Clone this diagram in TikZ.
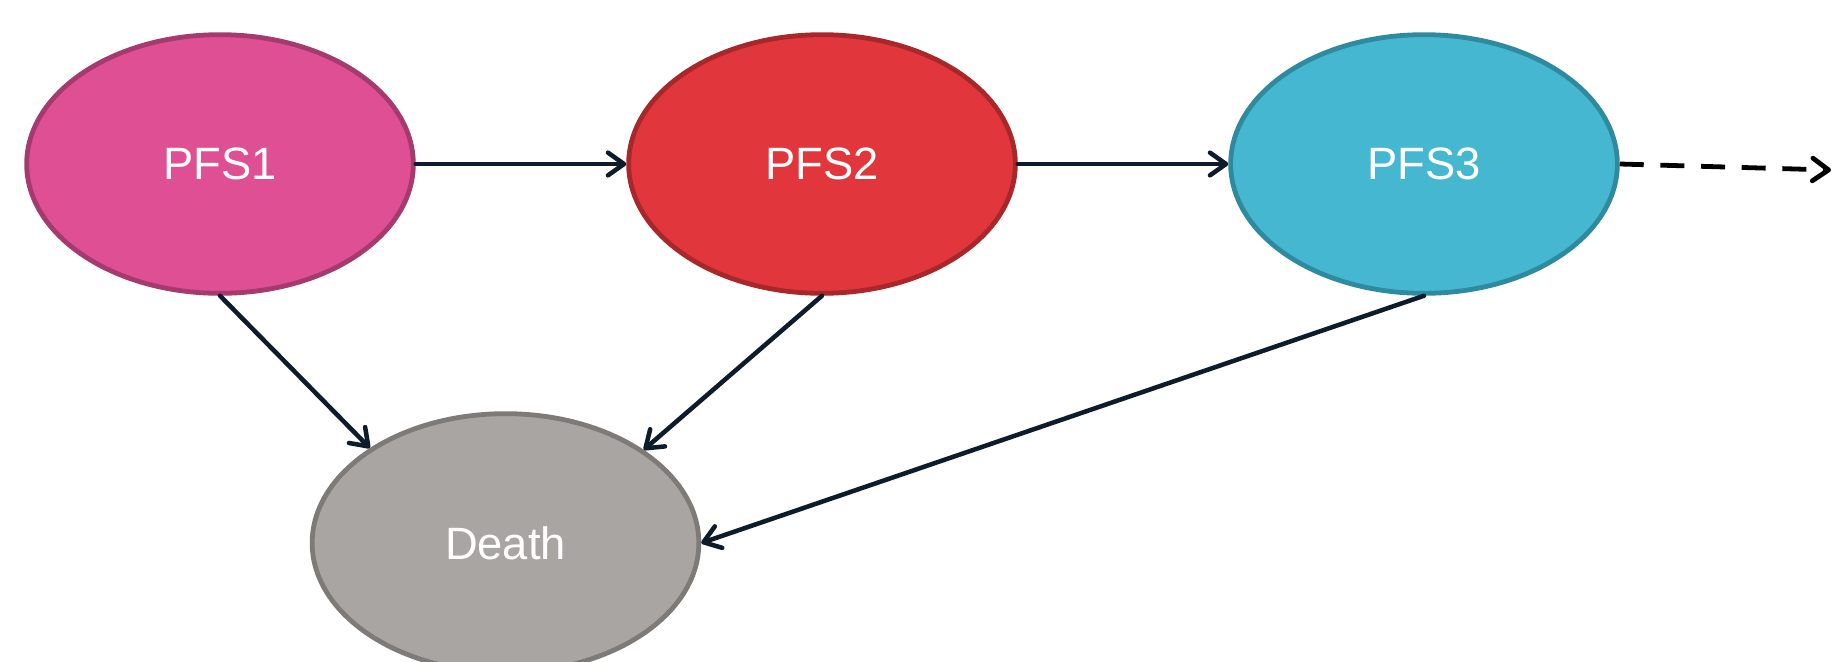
\documentclass[tikz,border=0pt]{standalone}
\usepackage{fontspec}
\setmainfont{Liberation Sans}
\usetikzlibrary{shapes.geometric,arrows.meta}
\definecolor{pinkfill}{HTML}{DE4F93}
\definecolor{pinkline}{HTML}{A53A6E}
\definecolor{redfill}{HTML}{E0363C}
\definecolor{redline}{HTML}{A8272B}
\definecolor{bluefill}{HTML}{45B7D1}
\definecolor{blueline}{HTML}{2E8A9E}
\definecolor{greyfill}{HTML}{A9A5A2}
\definecolor{greyline}{HTML}{7D7A77}
\definecolor{arrowcol}{HTML}{0D1B2A}
\tikzset{
  state/.style={ellipse, minimum width=290pt, minimum height=194pt, line width=3.6pt,
    text=white, font=\fontsize{34}{40}\selectfont, inner sep=0pt},
  conn/.style={line width=3.4pt, draw=arrowcol, line cap=round,
    -{Straight Barb[length=12pt,width=17pt,round]}},
  dashconn/.style={line width=3.6pt, draw=black, dash pattern=on 18pt off 12.5pt,
    -{Straight Barb[length=12pt,width=17pt,round]}}
}
\begin{document}
\begin{tikzpicture}[x=0.75pt,y=-0.75pt]
\useasboundingbox (0,0) rectangle (1842,661);
\clip (0,0) rectangle (1842,661);
\node[state, fill=pinkfill, draw=pinkline] (p1) at (220,164) {PFS1};
\node[state, fill=redfill, draw=redline] (p2) at (822,164) {PFS2};
\node[state, fill=bluefill, draw=blueline] (p3) at (1424,164) {PFS3};
\node[state, fill=greyfill, draw=greyline] (d) at (505.5,543) {Death};
\coordinate (out) at (1831,170);
\draw[conn] (p1.east) -- (p2.west);
\draw[conn] (p2.east) -- (p3.west);
\draw[dashconn] (p3.east) -- (out);
\draw[conn] (p1.south) -- (d.145);
\draw[conn] (p2.south) -- (d.34);
\draw[conn] (p3.south) -- (d.east);
\end{tikzpicture}
\end{document}
